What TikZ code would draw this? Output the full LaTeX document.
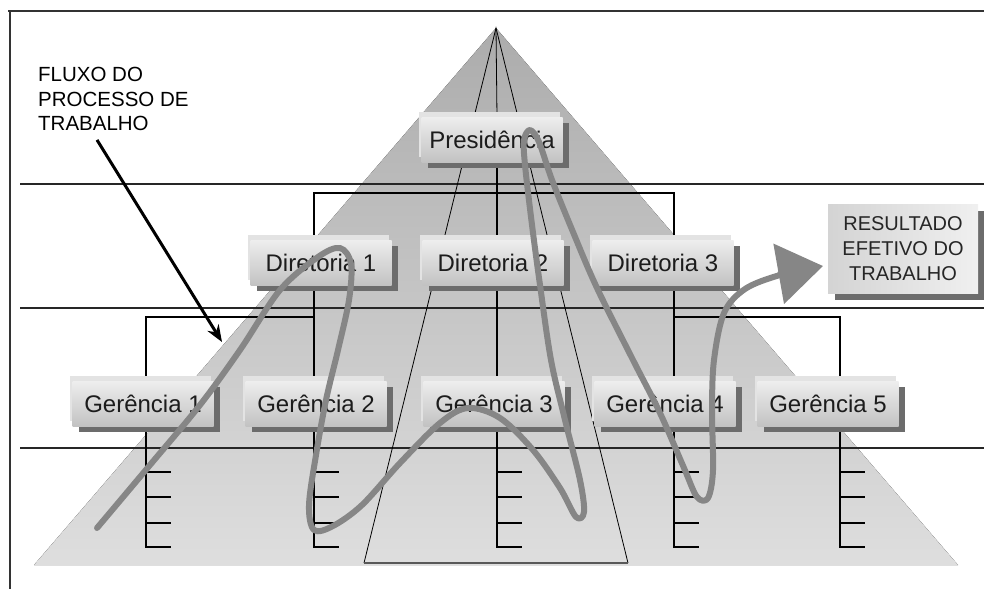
\documentclass[tikz,border=0pt]{standalone}
\usepackage{fontspec}
\setmainfont{Liberation Sans}
\usetikzlibrary{arrows.meta,backgrounds}

\definecolor{pyrtop}{RGB}{172,172,172}
\definecolor{pyrbot}{RGB}{222,222,222}
\definecolor{boxshadow}{RGB}{108,108,108}
\definecolor{flowgray}{RGB}{134,134,134}
\definecolor{ink}{RGB}{28,28,28}

\begin{document}
\begin{tikzpicture}[x=1pt,y=-1pt,
  frame/.style={line width=2pt,draw=black!80},
  rule/.style={line width=1.2pt,draw=black!85},
  orgline/.style={line width=1.4pt,draw=black},
  thinline/.style={line width=0.8pt,draw=black},
  orgbox/.style={rectangle,minimum width=141pt,minimum height=45pt,inner sep=0pt,
    text height=17pt,text depth=0pt,font=\fontsize{24}{28}\selectfont,text=ink,
    top color=gray!14,middle color=white,bottom color=gray!48,
    preaction={fill=boxshadow,transform canvas={shift={(6pt,-5pt)}}},
    preaction={fill=gray!22,transform canvas={shift={(-3pt,6pt)}}}},
  resbox/.style={rectangle,minimum width=150pt,minimum height=89pt,inner sep=0pt,
    align=center,font=\fontsize{20}{25}\selectfont,text=black!85,
    left color=gray!34,right color=gray!12,
    preaction={fill=boxshadow,transform canvas={shift={(7pt,-7pt)}}}},
  flowline/.style={line width=6pt,draw=flowgray,line cap=round,line join=round},
  pointer/.style={line width=3pt,draw=black,-{Stealth[length=17pt,width=13pt]}}
]
\useasboundingbox (0,0) rectangle (984,589);

% columns of the chart, bus levels and tick levels
\coordinate (apex) at (496,28);
\coordinate (trapL) at (364,563);
\coordinate (trapR) at (628,563);
\coordinate (cA) at (146,0);
\coordinate (cB) at (314,0);
\coordinate (cC) at (497,0);
\coordinate (cD) at (674,0);
\coordinate (cE) at (840,0);
\coordinate (busTop) at (0,193);
\coordinate (busMid) at (0,317);
\coordinate (t1) at (0,472);
\coordinate (t2) at (0,497);
\coordinate (t3) at (0,523);
\coordinate (t4) at (0,547);

% boxes
\node[orgbox] (p) at (492,140) {Presidência};
\node[orgbox] (d1) at (321,263) {Diretoria 1};
\node[orgbox] (d2) at (493,263) {Diretoria 2};
\node[orgbox] (d3) at (663,263) {Diretoria 3};
\node[orgbox] (g1) at (143,404) {Gerência 1};
\node[orgbox] (g2) at (316,404) {Gerência 2};
\node[orgbox] (g3) at (494,404) {Gerência 3};
\node[orgbox] (g4) at (665,404) {Gerência 4};
\node[orgbox] (g5) at (828,404) {Gerência 5};

\node[resbox] (res) at (903,248.5) {RESULTADO\\EFETIVO DO\\TRABALHO};

\node[anchor=north west,inner sep=0pt,align=left,font=\fontsize{20.5}{24.5}\selectfont,text=black]
  (fluxo) at (38,67) {FLUXO DO\\PROCESSO DE\\TRABALHO};

\begin{scope}[on background layer]
  % outer frame
  \draw[frame] (8,11) -- (984,11);
  \draw[frame] (10,11) -- (10,589);
  % pyramid
  \fill[top color=pyrtop,bottom color=pyrbot] (apex) -- (958,565) -- (34,565) -- cycle;
  % level rules
  \draw[rule] (20,184) -- (984,184);
  \draw[rule] (20,308) -- (984,308);
  \draw[rule] (20,448) -- (984,448);
  % inner trapezoid from the apex
  \draw[thinline] (trapL) -- (apex) -- (trapR);
  \draw[line width=1.8pt,draw=black!65] (trapL) -- (trapR);
  \draw[thinline] (apex) -- (p.north -| cC);
  % presidency to directorates
  \draw[orgline] (p.south -| cC) -- (d2.north -| cC);
  \draw[orgline] (d1.north -| cB) -- (cB |- busTop) -- (cD |- busTop) -- (d3.north -| cD);
  % directorates to managements
  \draw[orgline] (d1.south -| cB) -- (g2.north -| cB);
  \draw[orgline] (cB |- busMid) -- (cA |- busMid) -- (g1.north -| cA);
  \draw[orgline] (d2.south -| cC) -- (g3.north -| cC);
  \draw[orgline] (d3.south -| cD) -- (g4.north -| cD);
  \draw[orgline] (cD |- busMid) -- (cE |- busMid) -- (g5.north -| cE);
  % units under each management
  \foreach \g/\c in {g1/cA,g2/cB,g3/cC,g4/cD,g5/cE}{
    \draw[orgline] (\g.south -| \c) -- (\c |- t4) -- ++(25,0);
    \foreach \t in {t1,t2,t3}
      \draw[orgline] (\c |- \t) -- ++(25,0);
  }
\end{scope}

% flow of the work process
\draw[flowline,-{Triangle[length=45pt,width=60pt]}] plot[smooth,tension=0.55] coordinates {
  (97,528) (150,465) (200,405) (240,350) (280,290) (318,257) (340,248)
  (351,264) (349,300) (338,350) (326,400) (316,455) (309,505) (314,530)
  (333,526) (362,505) (400,463) (440,423) (468,408) (500,418) (533,450)
  (560,488) (576,517) (584,512) (580,480) (565,420) (551,360) (540,285)
  (532,225) (525,165) (524,140) (530,130) (539,142) (552,180) (573,232)
  (597,288) (633,360) (660,413) (684,468) (697,497) (708,498) (713,470)
  (712,410) (714,360) (724,313) (745,289) (780,275) (823,266)};

% pointer from the caption
\coordinate (fluxtip) at (222,342);
\draw[pointer] ([xshift=59pt,yshift=-9pt]fluxo.south west) -- (fluxtip);
\end{tikzpicture}
\end{document}
